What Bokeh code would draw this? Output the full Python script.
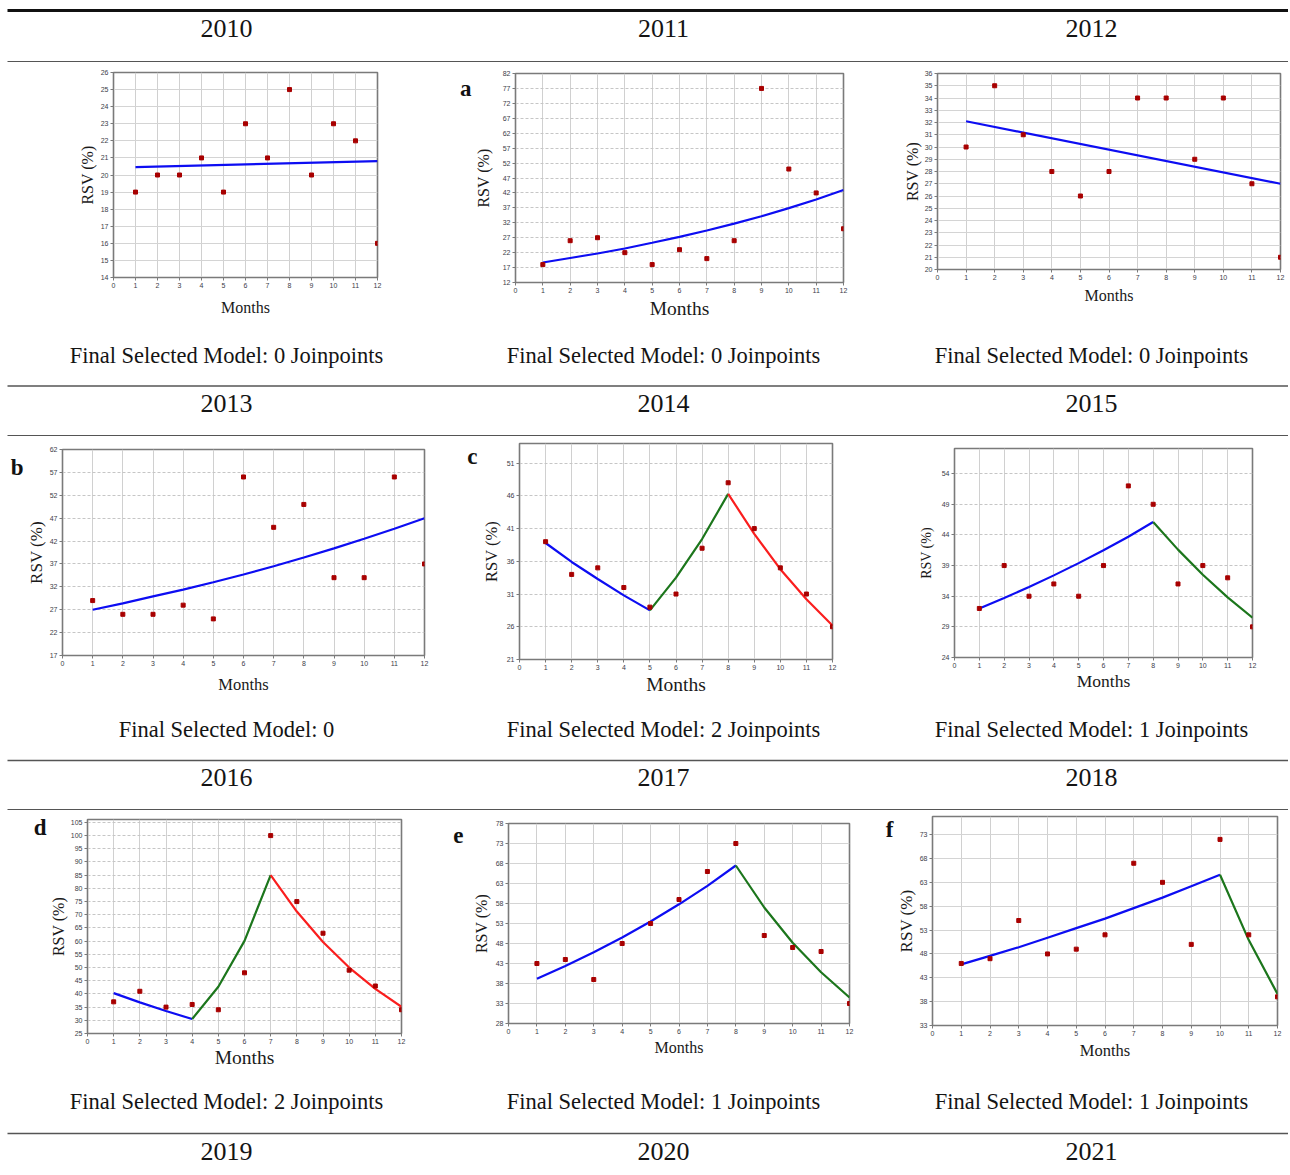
from bokeh.plotting import figure
from bokeh.models import Range1d, FixedTicker, LinearAxis
from bokeh.layouts import column, row
from bokeh.embed import file_html
from bokeh.resources import INLINE
from bokeh.core.properties import value

# ---------------- data ----------------
months = [1, 2, 3, 4, 5, 6, 7, 8, 9, 10, 11, 12]
month_ticks = [0, 1, 2, 3, 4, 5, 6, 7, 8, 9, 10, 11, 12]

rsv_2010 = [19, 20, 20, 21, 19, 23, 21, 25, 20, 23, 22, 16]
rsv_2011 = [18, 26, 27, 22, 18, 23, 20, 26, 77, 50, 42, 30]
rsv_2012 = [30, 35, 31, 28, 26, 28, 34, 34, 29, 34, 27, 21]
rsv_2013 = [29, 26, 26, 28, 25, 56, 45, 50, 34, 34, 56, 37]
rsv_2014 = [39, 34, 35, 32, 29, 31, 38, 48, 41, 35, 31, 26]
rsv_2015 = [32, 39, 34, 36, 34, 39, 52, 49, 36, 39, 37, 29]
rsv_2016 = [37, 41, 35, 36, 34, 48, 100, 75, 63, 49, 43, 34]
rsv_2017 = [43, 44, 39, 48, 53, 59, 66, 73, 50, 47, 46, 33]
rsv_2018 = [46, 47, 55, 48, 49, 52, 67, 63, 50, 72, 52, 39]

# fitted joinpoint model segments: (months, values, colour)
fit_2010 = [([1, 12], [20.46, 20.81], "blue")]
fit_2011 = [(months, [18.7, 20.2, 21.7, 23.4, 25.3, 27.3, 29.4, 31.7, 34.2, 36.9, 39.8, 43.0], "blue")]
fit_2012 = [([1, 12], [32.1, 27.0], "blue")]
fit_2013 = [(months, [27.0, 28.4, 29.9, 31.4, 33.0, 34.7, 36.5, 38.4, 40.4, 42.5, 44.7, 47.0], "blue")]
fit_2014 = [([1, 2, 3, 4, 5], [38.8, 35.9, 33.3, 30.8, 28.5], "blue"),
            ([5, 6, 7, 8], [28.5, 33.5, 39.4, 46.3], "green"),
            ([8, 9, 10, 11, 12], [46.3, 40.2, 34.8, 30.2, 26.2], "red")]
fit_2015 = [([1, 2, 3, 4, 5, 6, 7, 8], [32.0, 33.7, 35.5, 37.4, 39.4, 41.5, 43.7, 46.1], "blue"),
            ([8, 9, 10, 11, 12], [46.1, 41.6, 37.5, 33.8, 30.5], "green")]
fit_2016 = [([1, 2, 3, 4], [40.3, 36.8, 33.5, 30.5], "blue"),
            ([4, 5, 6, 7], [30.5, 42.7, 60.1, 85.0], "green"),
            ([7, 8, 9, 10, 11, 12], [85.0, 71.2, 59.7, 50.0, 41.9, 35.1], "red")]
fit_2017 = [([1, 2, 3, 4, 5, 6, 7, 8], [39.2, 42.4, 45.8, 49.5, 53.5, 57.8, 62.4, 67.5], "blue"),
            ([8, 9, 10, 11, 12], [67.5, 57.0, 48.2, 40.8, 34.5], "green")]
fit_2018 = [([1, 2, 3, 4, 5, 6, 7, 8, 9, 10], [45.8, 47.6, 49.4, 51.4, 53.4, 55.4, 57.6, 59.8, 62.2, 64.6], "blue"),
            ([10, 11, 12], [64.6, 50.9, 39.6], "green")]

yticks_2010 = list(range(14, 27))
yticks_2011 = list(range(12, 83, 5))
yticks_2012 = list(range(20, 37))
yticks_2013 = list(range(17, 63, 5))
yticks_2014 = list(range(21, 52, 5))
yticks_2015 = list(range(24, 55, 5))
yticks_2016 = list(range(25, 106, 5))
yticks_2017 = list(range(28, 79, 5))
yticks_2018 = list(range(33, 74, 5))

year_rows = [["2010", "2011", "2012"], ["2013", "2014", "2015"],
             ["2016", "2017", "2018"], ["2019", "2020", "2021"]]
caption_rows = [["Final Selected Model: 0 Joinpoints"] * 3,
                ["Final Selected Model: 0", "Final Selected Model: 2 Joinpoints",
                 "Final Selected Model: 1 Joinpoints"],
                ["Final Selected Model: 2 Joinpoints", "Final Selected Model: 1 Joinpoints",
                 "Final Selected Model: 1 Joinpoints"]]
panel_letters = ["", "a", "", "b", "c", "", "d", "e", "f"]

# ---------------- styles / layout ----------------
LINE_COLORS = {"blue": "#0d0df2", "green": "#1c761c", "red": "#fa1e1e"}
SERIF = "Liberation Serif"
TOTAL_W = 1288
COL_X = [0, 445, 880]
COL_W = [445, 435, 408]
ROW_Y = [62, 436, 810]
ROW_H = [263, 264, 265]
CENTERS = [226, 663, 1091]
RULE_X0 = 7
LETTER_W = {"a": 11.5, "b": 12.8, "c": 10.2, "d": 12.8, "e": 10.2, "f": 7.7}

panels = [
    dict(vals=rsv_2010, fit=fit_2010, yr=(14, 26), yt=yticks_2010, frame=(113, 72, 377, 277),
         ylab_d=25, xlab_d=31, xfs=16, yfs=16, letter_xy=None, gdash="solid"),
    dict(vals=rsv_2011, fit=fit_2011, yr=(12, 82), yt=yticks_2011, frame=(515, 73, 843, 282),
         ylab_d=31, xlab_d=27, xfs=19.5, yfs=16, letter_xy=(468, 89), gdash="3 2"),
    dict(vals=rsv_2012, fit=fit_2012, yr=(20, 36), yt=yticks_2012, frame=(937, 73, 1280, 269),
         ylab_d=24, xlab_d=27, xfs=16, yfs=16, letter_xy=None, gdash="solid"),
    dict(vals=rsv_2013, fit=fit_2013, yr=(17, 62), yt=yticks_2013, frame=(62, 449, 424, 655),
         ylab_d=24, xlab_d=29, xfs=16.5, yfs=17, letter_xy=(30, 466), gdash="3 2"),
    dict(vals=rsv_2014, fit=fit_2014, yr=(21, 54), yt=yticks_2014, frame=(519, 443, 832, 659),
         ylab_d=26, xlab_d=26, xfs=19.5, yfs=16.5, letter_xy=(472, 458), gdash="3 2"),
    dict(vals=rsv_2015, fit=fit_2015, yr=(24, 58.1), yt=yticks_2015, frame=(954, 448, 1252, 657),
         ylab_d=26, xlab_d=21, xfs=17.5, yfs=14, letter_xy=None, gdash="3 2"),
    dict(vals=rsv_2016, fit=fit_2016, yr=(25, 106.1), yt=yticks_2016, frame=(87, 819, 401, 1033),
         ylab_d=27, xlab_d=24, xfs=19.5, yfs=16, letter_xy=(40, 828), gdash="3 2"),
    dict(vals=rsv_2017, fit=fit_2017, yr=(28, 78), yt=yticks_2017, frame=(508, 823, 849, 1023),
         ylab_d=26, xlab_d=25, xfs=16, yfs=16, letter_xy=(457, 834), gdash="solid"),
    dict(vals=rsv_2018, fit=fit_2018, yr=(33, 76.8), yt=yticks_2018, frame=(932, 816, 1277, 1025),
         ylab_d=24, xlab_d=25, xfs=16.5, yfs=17, letter_xy=(897, 829), gdash="solid"),
]


def make_panel(i, cfg):
    r, c = divmod(i, 3)
    cx, cy, cw, ch = COL_X[c], ROW_Y[r], COL_W[c], ROW_H[r]
    fl, ft, fr, fb = cfg["frame"]
    left, top = fl - cx, ft - cy
    right, bottom = cx + cw - fr, cy + ch - fb
    y0, y1 = cfg["yr"]
    p = figure(width=cw, height=ch, x_range=Range1d(0, 12), y_range=Range1d(y0, y1),
               output_backend="svg", toolbar_location=None,
               min_border_left=left, min_border_right=right,
               min_border_top=top, min_border_bottom=bottom)
    p.background_fill_color = "white"
    p.outline_line_color = "#7a7a7a"
    p.outline_line_width = 1.6

    p.xaxis.ticker = FixedTicker(ticks=month_ticks)
    p.yaxis.ticker = FixedTicker(ticks=cfg["yt"])
    p.xgrid.ticker = FixedTicker(ticks=month_ticks)
    p.ygrid.ticker = FixedTicker(ticks=cfg["yt"])
    p.xgrid.grid_line_color = "#d0d0d0"
    p.xgrid.grid_line_width = 1
    if cfg["gdash"] == "solid":
        p.ygrid.grid_line_color = "#d4d4d4"
    else:
        p.ygrid.grid_line_color = "#c6c6c6"
        p.ygrid.grid_line_dash = cfg["gdash"]
    p.ygrid.grid_line_width = 1

    lab_w = 3.9 * len(str(cfg["yt"][-1]))
    for ax in (p.xaxis[0], p.yaxis[0]):
        ax.axis_line_color = "#7a7a7a"
        ax.major_tick_line_color = "#7a7a7a"
        ax.major_tick_out = 3
        ax.major_tick_in = 0
        ax.minor_tick_line_color = None
        ax.major_label_text_font = "Liberation Sans"
        ax.major_label_text_font_size = "7px"
        ax.major_label_text_color = "#3c3c48"
        ax.major_label_standoff = 2
        ax.axis_label_text_font = SERIF
        ax.axis_label_text_font_style = "normal"
        ax.axis_label_text_color = "#1a1a1a"
    p.xaxis.axis_label = "Months"
    p.xaxis.axis_label_text_font_size = f"{cfg['xfs']}px"
    p.xaxis.axis_label_standoff = int(max(0, cfg["xlab_d"] - 13 - 0.58 * cfg["xfs"]))
    p.yaxis.axis_label = "RSV (%)"
    p.yaxis.axis_label_text_font_size = f"{cfg['yfs']}px"
    ys = int(max(0, cfg["ylab_d"] - 5 - lab_w - 0.58 * cfg["yfs"]))
    p.yaxis.axis_label_standoff = ys

    for xs, yv, col in cfg["fit"]:
        p.line(xs, yv, line_color=LINE_COLORS[col], line_width=2.2)
    p.scatter(months, cfg["vals"], marker="square", size=4, fill_color="#a80000",
              line_color="#a80000")

    # panel letter as the single label of an outer, invisible left axis
    if cfg["letter_xy"]:
        letter = panel_letters[i]
        px, py = cfg["letter_xy"]
        ly = int(round(y0 + (fb - py) / (fb - ft) * (y1 - y0)))
        axis1_w = 5 + lab_w + ys + 1.12 * cfg["yfs"] + 6
        outer = (fl - cx) - axis1_w
        want_right = (px - cx) + LETTER_W[letter] / 2
        standoff = int(max(0, outer - want_right))
        lax = LinearAxis(ticker=FixedTicker(ticks=[ly]), major_label_overrides={ly: letter},
                         axis_line_color=None, major_tick_line_color=None,
                         minor_tick_line_color=None, major_tick_out=0, major_tick_in=0,
                         major_label_standoff=standoff, major_label_text_font=SERIF,
                         major_label_text_font_size="23px", major_label_text_font_style="bold",
                         major_label_text_color="#111111")
        p.add_layout(lax, "left")
    return p


def make_strip(height, rules, year_y=None, years=None, cap_y=None, caps=None):
    p = figure(width=TOTAL_W, height=height, x_range=Range1d(0, TOTAL_W),
               y_range=Range1d(height, 0), output_backend="svg", toolbar_location=None,
               min_border=0, x_axis_type=None, y_axis_type=None)
    p.outline_line_color = None
    for yy, lw, col in rules:
        p.segment(x0=[RULE_X0], y0=[yy], x1=[TOTAL_W], y1=[yy], line_width=lw, line_color=col)
    if caps:
        p.text(x=CENTERS, y=[cap_y] * 3, text=caps, text_font=value(SERIF),
               text_font_size="22.5px", text_align="center", text_baseline="middle",
               text_color="#141414")
    if years:
        p.text(x=CENTERS, y=[year_y] * 3, text=years, text_font=value(SERIF),
               text_font_size="26px", text_align="center", text_baseline="middle",
               text_color="#141414")
    return p


header = make_strip(62, [(10, 3, "#111111"), (61.2, 1.6, "#555555")], year_y=28, years=year_rows[0])
strip1 = make_strip(111, [(60.5, 1.6, "#555555"), (110.2, 1.6, "#555555")], year_y=78,
                    years=year_rows[1], cap_y=30, caps=caption_rows[0])
strip2 = make_strip(110, [(60, 1.6, "#555555"), (109.2, 1.6, "#555555")], year_y=77,
                    years=year_rows[2], cap_y=29, caps=caption_rows[1])
strip3 = make_strip(97, [(58, 1.6, "#555555")], year_y=76, years=year_rows[3],
                    cap_y=26, caps=caption_rows[2])

plots = [make_panel(i, cfg) for i, cfg in enumerate(panels)]
# each panel is wrapped on its own so that the row does not align their frames
cells = [column(pl, spacing=0) for pl in plots]

layout = column(
    header,
    row(cells[0], cells[1], cells[2], spacing=0),
    strip1,
    row(cells[3], cells[4], cells[5], spacing=0),
    strip2,
    row(cells[6], cells[7], cells[8], spacing=0),
    strip3,
    spacing=0,
)

open("out.html", "w").write(file_html(layout, INLINE, title="RSV joinpoint models"))
